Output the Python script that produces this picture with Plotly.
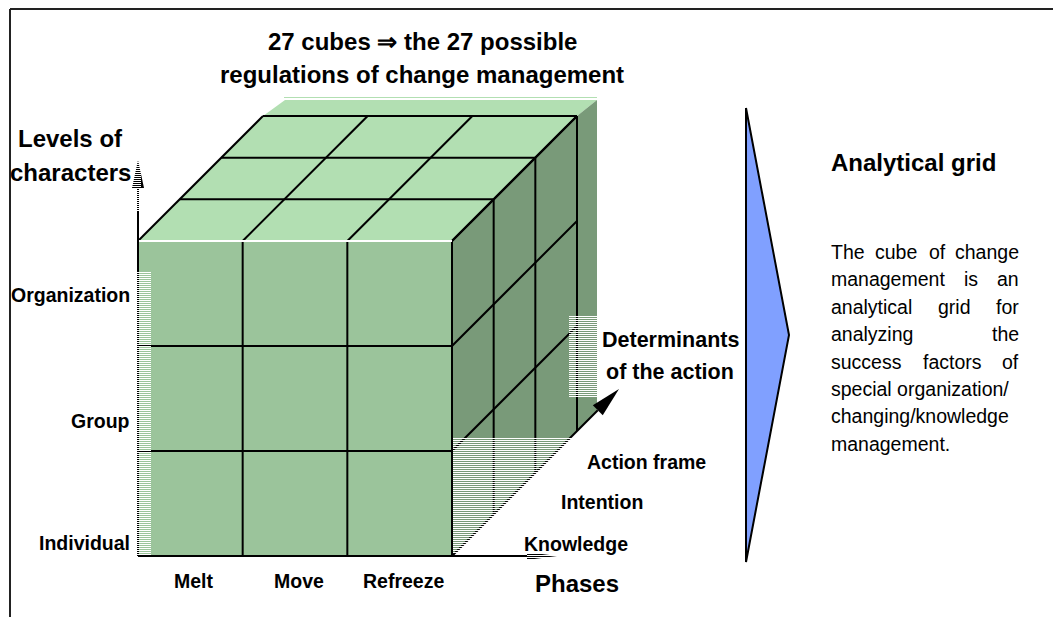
import numpy as np
import plotly.graph_objects as go

# ---------------- data ----------------
phases = ["Melt", "Move", "Refreeze"]
levels = ["Individual", "Group", "Organization"]
determinants = ["Knowledge", "Intention", "Action frame"]
axis_phases = "Phases"
axis_levels = ["Levels of", "characters"]
axis_determinants = ["Determinants", "of the action"]
title_lines = ["27 cubes \u21d2 the 27 possible", "regulations of change management"]
side_title = "Analytical grid"
para_lines = [
    ["The", "cube", "of", "change"],
    ["management", "is", "an"],
    ["analytical", "grid", "for"],
    ["analyzing", "the"],
    ["success", "factors", "of"],
    ["special organization/"],
    ["changing/knowledge"],
    ["management."],
]

# ---------------- layout constants ----------------
W, H = 1061, 617
OFF = 8  # page body margin
FB = "Liberation Sans, Arial, sans-serif"
X0, Y0 = 138.0, 556.0
CW = (452 - 138) / 3.0
CH = (556 - 241) / 3.0
D = 125 / 3.0
C_TOP, C_FRONT, C_RIGHT = "#b2dfb2", "#9bc49b", "#799a79"


def P(i, j, k):
    return (X0 + i * CW + k * D, Y0 - j * CH - k * D)


fig = go.Figure()


def poly(pts, color, line_color=None, lw=0):
    xs = [p[0] for p in pts] + [pts[0][0]]
    ys = [p[1] for p in pts] + [pts[0][1]]
    fig.add_trace(go.Scatter(x=xs, y=ys, mode="lines", fill="toself", fillcolor=color,
                             line=dict(color=line_color or color, width=lw if line_color else 0),
                             hoverinfo="skip", showlegend=False))


def segs(seglist, color, width):
    xs, ys = [], []
    for a, b in seglist:
        xs += [a[0], b[0], None]
        ys += [a[1], b[1], None]
    fig.add_trace(go.Scatter(x=xs, y=ys, mode="lines", line=dict(color=color, width=width),
                             hoverinfo="skip", showlegend=False, connectgaps=False))


def head(tip, direction, length, hw, color="black"):
    d = np.array(direction, float)
    d /= np.linalg.norm(d)
    n = np.array([-d[1], d[0]])
    t = np.array(tip, float)
    b = t - d * length
    poly([tuple(t), tuple(b + n * hw), tuple(b - n * hw)], color)
    return tuple(b)


# shadow behind the cube
O = (20, -16)
c333 = P(3, 3, 3)
c303 = P(3, 0, 3)
det_end_x = c333[0] + O[0]
det_end_y = Y0 - (det_end_x - P(3, 0, 0)[0])
poly([P(0, 3, 3), c333, (c333[0] + O[0], c333[1] + O[1]), (P(0, 3, 3)[0] + O[0] + 2, c333[1] + O[1])], C_TOP)
poly([c333, (c333[0] + O[0], c333[1] + O[1]), (det_end_x, det_end_y), c303], C_RIGHT)
segs([((P(0, 3, 3)[0] + 21, 97.5), (c333[0] + O[0], 97.5))], C_TOP, 1)

# cube faces
poly([P(0, 0, 0), P(3, 0, 0), P(3, 3, 0), P(0, 3, 0)], C_FRONT)
poly([P(0, 3, 0), P(3, 3, 0), P(3, 3, 3), P(0, 3, 3)], C_TOP)
poly([P(3, 0, 0), P(3, 0, 3), P(3, 3, 3), P(3, 3, 0)], C_RIGHT)

lines = []
n = len(phases)
for i in range(n + 1):
    lines.append((P(i, 0, 0), P(i, 3, 0)))
    lines.append((P(i, 3, 0), P(i, 3, 3)))
for j in range(0, n):
    lines.append((P(0, j, 0), P(3, j, 0)))
for k in range(1, n + 1):
    lines.append((P(0, 3, k), P(3, 3, k)))
    lines.append((P(3, 0, k), P(3, 3, k)))
for j in range(1, n + 1):
    lines.append((P(3, j, 0), P(3, j, 3)))
segs(lines, "black", 2)
segs([(P(0, 3, 0), P(3, 3, 0))], "white", 2)

# axis arrows
b = head((X0, 160), (0, -1), 28, 6)
segs([(P(0, 0, 0), b)], "black", 2)
b = head((557, Y0), (1, 0), 30, 4)
segs([(P(3, 0, 0), b)], "black", 2)
t = 167
b = head((P(3, 0, 0)[0] + t, Y0 - t), (1, -1), 30, 7)
segs([(P(3, 0, 0), b)], "black", 2)

# hatched text-box overlays
def hatch(x0, x1, y0, y1):
    return [((x0, y + 0.5), (x1, y + 0.5)) for y in np.arange(np.floor(y0), y1, 2)]

hl = []
hl += hatch(9, 151, 272, 556)
hl += hatch(9, 141, 110, 212)
hl += hatch(453, 572, 438, 554)
hl += hatch(569, 597, 316, 398)
hl += hatch(527, 560, 551, 561)
segs(hl, "white", 1)

# blue chevron
poly([(746, 108), (789, 335), (746, 562)], "#80a0ff", "black", 2)

# frame
segs([((10, 9), (W, 9)), ((10, 9), (10, H))], "#222222", 2)
segs([((1059.5, 9), (1059.5, H))], "#dddddd", 1)

# ---------------- text ----------------
ann = []


def txt(x, y, s, size, bold=True, xanchor="center", family=FB):
    ann.append(dict(x=x, y=y, xref="x", yref="y", text=("<b>%s</b>" % s) if bold else s,
                    showarrow=False, xanchor=xanchor, yanchor="middle",
                    font=dict(family=family, size=size, color="black")))


BIG, MID, SMALL, PARA = 24, 21.5, 19.5, 19.5
txt(422, 41, title_lines[0], BIG)
txt(422, 74, title_lines[1], BIG)
txt(70, 138, axis_levels[0], BIG)
txt(70, 172, axis_levels[1], BIG)
for lab, y in zip(levels, [543, 421, 295]):
    txt(132, y, lab, SMALL, xanchor="right")
for i, lab in enumerate(phases):
    txt(P(i + 0.5, 0, 0)[0] + 4, 581, lab, SMALL)
txt(577, 583, axis_phases, BIG)
for lab, x, y in zip(determinants, [522, 559, 585], [544, 502, 462]):
    txt(x, y, lab, SMALL, xanchor="left")
txt(670, 340, axis_determinants[0], MID)
txt(670, 372, axis_determinants[1], MID)
txt(829, 162, side_title, BIG, xanchor="left")

para_x = [
    [(829, "left"), (895.5, "center"), (937.5, "center"), (1021, "right")],
    [(829, "left"), (970.5, "center"), (1021, "right")],
    [(829, "left"), (954, "center"), (1021, "right")],
    [(829, "left"), (1021, "right")],
    [(829, "left"), (952.5, "center"), (1021, "right")],
    [(829, "left")],
    [(829, "left")],
    [(829, "left")],
]
para_y0, para_dy = 252, 27.4
for li, words in enumerate(para_lines):
    for w, (x, xa) in zip(words, para_x[li]):
        txt(x, para_y0 + li * para_dy, w, PARA, bold=False, xanchor=xa)

fig.update_layout(
    width=W - OFF, height=H - OFF, autosize=False,
    margin=dict(l=0, r=0, t=0, b=0, pad=0),
    paper_bgcolor="white", plot_bgcolor="white",
    xaxis=dict(range=[OFF, W], visible=False, fixedrange=True),
    yaxis=dict(range=[H, OFF], visible=False, fixedrange=True),
    annotations=ann, hovermode=False, showlegend=False,
)
fig.write_html("out.html")
